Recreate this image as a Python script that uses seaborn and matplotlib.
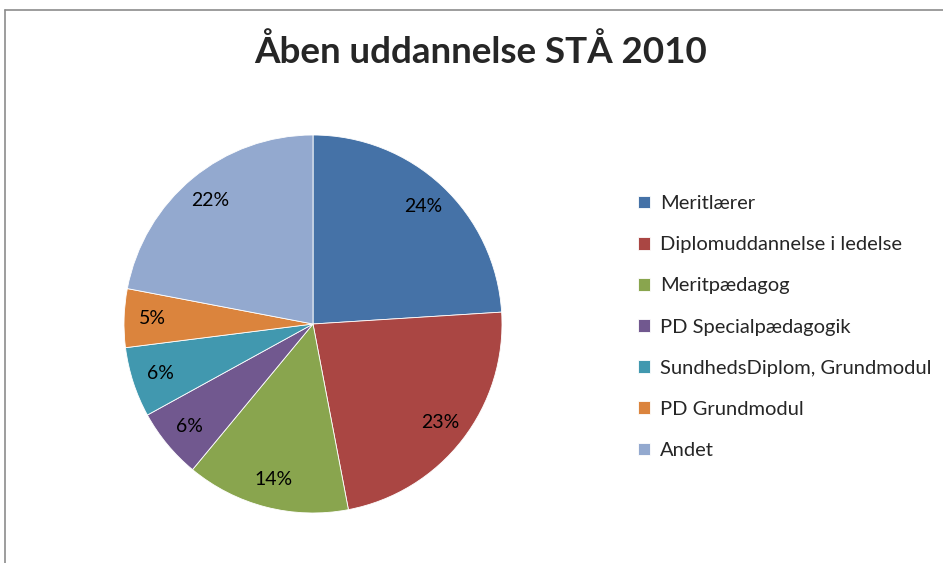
import seaborn as sns
import matplotlib.pyplot as plt
from matplotlib.lines import Line2D

sns.set_style("white")
plt.rcParams['font.family'] = ['Lato', 'DejaVu Sans']

# Data
categories = ["Meritlærer", "Diplomuddannelse i ledelse", "Meritpædagog",
              "PD Specialpædagogik", "SundhedsDiplom, Grundmodul",
              "PD Grundmodul", "Andet"]
shares = [24, 23, 14, 6, 6, 5, 22]
colors = ["#4572A7", "#AA4643", "#89A54E", "#71588F", "#4198AF", "#DB843D", "#93A9CF"]

W, H = 943, 563
fig = plt.figure(figsize=(W / 100, H / 100), dpi=100)

# pie axes: center (313, 324) px, radius 189 px
cx, cy, r = 313, 324, 189
ax = fig.add_axes([(cx - r) / W, (H - cy - r) / H, 2 * r / W, 2 * r / H])
wedges, _, autotexts = ax.pie(
    shares, colors=colors, startangle=90, counterclock=False,
    autopct=lambda p: f"{p:.0f}%", pctdistance=0.85,
    wedgeprops=dict(linewidth=0.6, edgecolor="white"),
    textprops=dict(fontsize=14, color="black"),
)
ax.set_xlim(-1, 1)
ax.set_ylim(-1, 1)
ax.set_aspect("equal")

fig.text(481 / W, 1 - 52 / H, "Åben uddannelse STÅ 2010", ha="center", va="center",
         fontsize=26.5, fontweight="bold")

fig.legend(wedges, categories, loc="upper left",
           bbox_to_anchor=(620 / W, 1 - 177 / H), frameon=False,
           fontsize=14.5, handlelength=0.6, handleheight=0.6,
           handletextpad=0.5, labelspacing=1.2)

# chart frame (left and top edges visible)
fig.add_artist(Line2D([5 / W, 5 / W], [0, 1 - 10 / H], color="#8c8c8c", lw=1.2,
                      transform=fig.transFigure))
fig.add_artist(Line2D([5 / W, 1], [1 - 10 / H, 1 - 10 / H], color="#8c8c8c", lw=1.2,
                      transform=fig.transFigure))

plt.savefig("out.png", dpi=100)
